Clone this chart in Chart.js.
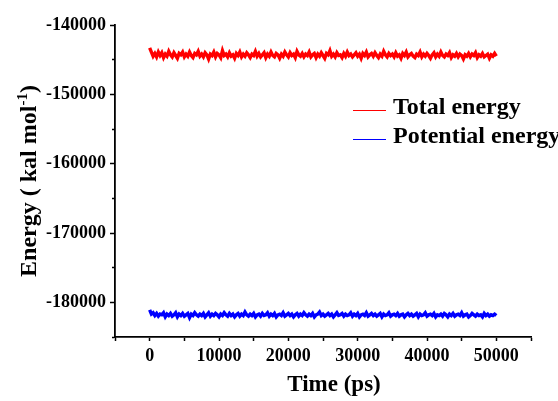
<!DOCTYPE html>
<html>
<head>
<meta charset="utf-8">
<script src="https://cdn.jsdelivr.net/npm/chart.js@4/dist/chart.umd.min.js"></script>
<style>
  html, body { margin: 0; padding: 0; background: #fff; }
  #wrap { width: 558px; height: 401px; }
</style>
</head>
<body>
<div id="wrap"><canvas id="energyChart" width="558" height="401"></canvas></div>
<script>
// simulation time of each saved frame (ps)
const timePs = [
  0, 250, 500, 750, 1000, 1250, 1500, 1750, 2000, 2250,
  2500, 2750, 3000, 3250, 3500, 3750, 4000, 4250, 4500, 4750,
  5000, 5250, 5500, 5750, 6000, 6250, 6500, 6750, 7000, 7250,
  7500, 7750, 8000, 8250, 8500, 8750, 9000, 9250, 9500, 9750,
  10000, 10250, 10500, 10750, 11000, 11250, 11500, 11750, 12000, 12250,
  12500, 12750, 13000, 13250, 13500, 13750, 14000, 14250, 14500, 14750,
  15000, 15250, 15500, 15750, 16000, 16250, 16500, 16750, 17000, 17250,
  17500, 17750, 18000, 18250, 18500, 18750, 19000, 19250, 19500, 19750,
  20000, 20250, 20500, 20750, 21000, 21250, 21500, 21750, 22000, 22250,
  22500, 22750, 23000, 23250, 23500, 23750, 24000, 24250, 24500, 24750,
  25000, 25250, 25500, 25750, 26000, 26250, 26500, 26750, 27000, 27250,
  27500, 27750, 28000, 28250, 28500, 28750, 29000, 29250, 29500, 29750,
  30000, 30250, 30500, 30750, 31000, 31250, 31500, 31750, 32000, 32250,
  32500, 32750, 33000, 33250, 33500, 33750, 34000, 34250, 34500, 34750,
  35000, 35250, 35500, 35750, 36000, 36250, 36500, 36750, 37000, 37250,
  37500, 37750, 38000, 38250, 38500, 38750, 39000, 39250, 39500, 39750,
  40000, 40250, 40500, 40750, 41000, 41250, 41500, 41750, 42000, 42250,
  42500, 42750, 43000, 43250, 43500, 43750, 44000, 44250, 44500, 44750,
  45000, 45250, 45500, 45750, 46000, 46250, 46500, 46750, 47000, 47250,
  47500, 47750, 48000, 48250, 48500, 48750, 49000, 49250, 49500, 49750,
  50000
];

// total energy (kal/mol)
const totalEnergy = [
  -143300, -143900, -144500, -144100, -144600, -143900, -144400, -144000, -144700, -144200,
  -144500, -143800, -144300, -144600, -144000, -144400, -144800, -144100, -144300, -143900,
  -144600, -144200, -144500, -143900, -144400, -144700, -144100, -144300, -143800, -144500,
  -144200, -144600, -144000, -144300, -144900, -144200, -144400, -143900, -144600, -144100,
  -144300, -144700, -143700, -144400, -144200, -144600, -144000, -144500, -144300, -144800,
  -144100, -144400, -143900, -144600, -144200, -144500, -144000, -144300, -144700, -144200,
  -144400, -143800, -144500, -144100, -144600, -144300, -144000, -144700, -144200, -144500,
  -143900, -144400, -144600, -144100, -144300, -144800, -144200, -144500, -143900, -144300,
  -144600, -144000, -144400, -144200, -144700, -143800, -144300, -144500, -144100, -144600,
  -144200, -144400, -143900, -144600, -144300, -144100, -144700, -144200, -144500, -144000,
  -144400, -144800, -144100, -144300, -143700, -144500, -144200, -144600, -144000, -144400,
  -144300, -144700, -144100, -144500, -143900, -144400, -144200, -144600, -144300, -144000,
  -144500, -144200, -144800, -144100, -144400, -143900, -144600, -144300, -144100, -144500,
  -144000, -144400, -144700, -144200, -144500, -143800, -144300, -144600, -144100, -144400,
  -144200, -144600, -144000, -144500, -144300, -144800, -144100, -144400, -143900, -144600,
  -144300, -144100, -144500, -144700, -144200, -144400, -143900, -144600, -144200, -144500,
  -144100, -144400, -144800, -144300, -144000, -144600, -144200, -144500, -143900, -144400,
  -144600, -144200, -144400, -144000, -144700, -144300, -144500, -144100, -144600, -144200,
  -144400, -144900, -144300, -144500, -144100, -144600, -144200, -144400, -144000, -144700,
  -144300, -144500, -144100, -144600, -144400, -144200, -144800, -144300, -144500, -144100,
  -144500
];

// potential energy (kal/mol)
const potentialEnergy = [
  -181100, -181700, -181500, -181900, -181600, -182000, -181700, -181800, -181500, -182100,
  -181700, -181900, -181600, -182000, -181800, -181500, -182100, -181700, -181900, -181600,
  -182000, -181800, -181600, -182200, -181700, -181900, -181500, -181800, -182000, -181700,
  -181900, -181600, -182100, -181800, -181500, -182000, -181700, -181900, -181600, -181800,
  -182100, -181700, -181900, -181500, -181800, -182000, -181600, -181900, -181700, -182100,
  -181800, -181600, -182000, -181700, -181900, -181400, -181800, -182000, -181700, -181900,
  -181600, -182100, -181800, -181700, -182000, -181600, -181900, -181800, -181500, -182000,
  -181700, -181900, -181600, -182100, -181800, -181700, -181900, -181500, -182000, -181800,
  -181600, -181900, -181700, -182100, -181800, -181600, -182000, -181700, -181900, -181500,
  -181800, -182000, -181700, -181900, -181600, -182100, -181800, -181700, -181400, -181900,
  -181700, -182000, -181800, -181600, -181900, -181700, -182100, -181800, -181500, -181900,
  -181800, -181600, -182000, -181700, -181900, -181800, -181500, -182000, -181700, -181900,
  -181600, -182100, -181800, -181700, -181900, -181500, -182000, -181800, -181600, -181900,
  -181700, -182000, -181800, -181600, -182100, -181700, -181900, -181800, -181500, -182000,
  -181800, -181700, -181900, -181600, -182000, -181800, -181700, -182100, -181800, -181600,
  -181900, -181700, -182000, -181800, -181600, -182100, -181700, -181900, -181800, -181500,
  -182000, -181800, -181700, -181900, -181600, -182100, -181800, -181900, -181700, -182000,
  -181600, -181800, -182100, -181700, -181900, -181600, -182000, -181800, -181700, -181900,
  -181500, -182000, -181800, -181700, -182100, -181900, -181600, -181800, -182000, -181700,
  -181900, -181800, -182100, -181600, -181900, -181700, -182000, -181800, -181900, -181700,
  -181900
];

const seriesNames = ['Total energy', 'Potential energy'];
const seriesColors = ['#ff0000', '#0000ff'];

const FONT = "'Liberation Serif', 'Times New Roman', serif";

const toPoints = (ys) => ys.map((y, i) => ({ x: timePs[i], y }));

// axis titles + legend, drawn by hand (superscript, free placement)
const annotations = {
  id: 'annotations',
  afterDraw(chart) {
    const ctx = chart.ctx;
    const area = chart.chartArea;
    ctx.save();
    ctx.fillStyle = '#000';

    // x title
    ctx.font = `bold 23px ${FONT}`;
    ctx.textAlign = 'center';
    ctx.textBaseline = 'alphabetic';
    ctx.fillText('Time (ps)', 334, 391);

    // y title, rotated, with superscript
    const cy = (area.top + area.bottom) / 2;
    ctx.translate(36, cy);
    ctx.rotate(-Math.PI / 2);
    const main = 'Energy ( kal mol';
    const sup = '-1';
    const tail = ')';
    ctx.font = `bold 24px ${FONT}`;
    const wMain = ctx.measureText(main).width;
    const wTail = ctx.measureText(tail).width;
    ctx.font = `bold 15px ${FONT}`;
    const wSup = ctx.measureText(sup).width;
    let x = -(wMain + wSup + wTail) / 2;
    ctx.textAlign = 'left';
    ctx.font = `bold 24px ${FONT}`;
    ctx.fillText(main, x, 0);
    x += wMain;
    ctx.font = `bold 15px ${FONT}`;
    ctx.fillText(sup, x, -9);
    x += wSup;
    ctx.font = `bold 24px ${FONT}`;
    ctx.fillText(tail, x, 0);
    ctx.setTransform(1, 0, 0, 1, 0, 0);

    // legend
    const rows = [110.5, 139.5];
    chart.data.datasets.forEach((ds, i) => {
      const y = rows[i];
      ctx.strokeStyle = ds.borderColor;
      ctx.lineWidth = 1;
      ctx.beginPath();
      ctx.moveTo(353, y);
      ctx.lineTo(386, y);
      ctx.stroke();
      ctx.fillStyle = '#000';
      ctx.font = `bold 24px ${FONT}`;
      ctx.textAlign = 'left';
      ctx.fillText(ds.label, 393, y + 3.5);
    });
    ctx.restore();
  }
};

const isMajor = (v) => v % 10000 === 0;

new Chart(document.getElementById('energyChart'), {
  type: 'line',
  data: {
    datasets: [
      { label: seriesNames[0], data: toPoints(totalEnergy), borderColor: seriesColors[0], borderWidth: 3.4, borderJoinStyle: 'miter', pointRadius: 0, tension: 0 },
      { label: seriesNames[1], data: toPoints(potentialEnergy), borderColor: seriesColors[1], borderWidth: 3.4, borderJoinStyle: 'miter', pointRadius: 0, tension: 0 }
    ]
  },
  options: {
    responsive: false,
    animation: false,
    layout: { padding: { top: 25, right: 27, left: 0, bottom: 0 } },
    plugins: {
      legend: { display: false },
      tooltip: { enabled: false }
    },
    scales: {
      x: {
        type: 'linear',
        min: -5000,
        max: 55000,
        afterFit: (s) => { s.height = 64; },
        border: { display: true, color: '#000', width: 1.8 },
        grid: { drawOnChartArea: false, drawTicks: true, tickLength: 4, tickColor: '#000', tickWidth: 1.5 },
        ticks: {
          stepSize: 5000,
          autoSkip: false,
          maxRotation: 0,
          padding: 5,
          color: '#000',
          font: { family: FONT, size: 18, weight: 'bold' },
          callback: (v) => (isMajor(v) && v >= 0 && v <= 50000 ? String(v) : '')
        }
      },
      y: {
        min: -185000,
        max: -140000,
        afterFit: (s) => { s.width = 115; },
        border: { display: true, color: '#000', width: 1.8 },
        grid: {
          drawOnChartArea: false,
          drawTicks: true,
          tickLength: 5,
          tickColor: '#000',
          tickWidth: 1.5,
          tickBorderDash: (c) => (c.tick && !isMajor(c.tick.value) ? [0, 2, 3, 20] : [])
        },
        ticks: {
          stepSize: 5000,
          autoSkip: false,
          padding: 4,
          color: '#000',
          font: { family: FONT, size: 18, weight: 'bold' },
          callback: (v) => (isMajor(v) && v >= -180000 ? String(v) : '')
        }
      }
    }
  },
  plugins: [annotations]
});
</script>
</body>
</html>
